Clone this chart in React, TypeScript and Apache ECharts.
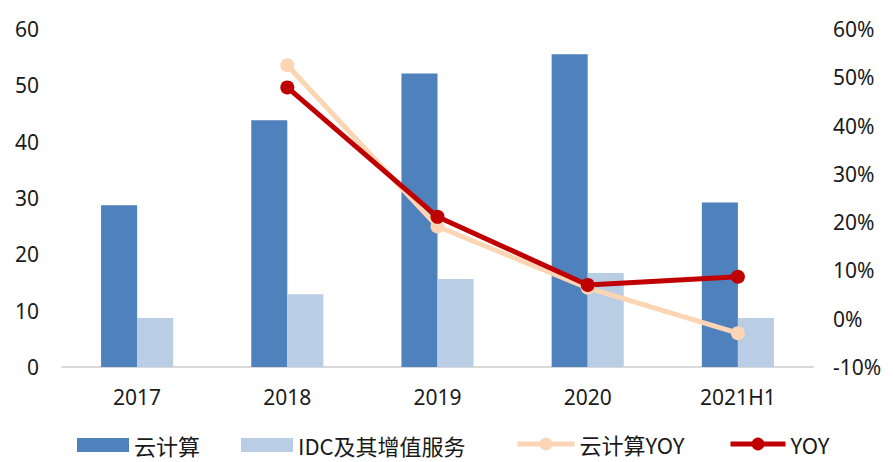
import React, { useEffect, useRef } from "react";
import * as echarts from "echarts";

const categories = ["2017", "2018", "2019", "2020", "2021H1"];
const cloudRevenue = [28.7, 43.8, 52.1, 55.5, 29.2];
const idcRevenue = [8.7, 12.9, 15.6, 16.7, 8.7];
const cloudYoy = [null, 52.5, 19.1, 6.4, -3.0];
const totalYoy = [null, 47.9, 21.1, 7.0, 8.7];
const legendNames = ["云计算", "IDC及其增值服务", "云计算YOY", "YOY"];

const FONT = "'Noto Sans', 'Noto Sans CJK SC', sans-serif";
const LEGEND_FONT = "'Noto Sans CJK SC', 'Noto Sans', sans-serif";

export default function App() {
  const ref = useRef<HTMLDivElement>(null);
  useEffect(() => {
    if (!ref.current) return;
    const chart = echarts.init(ref.current, undefined, { renderer: "svg" });
    const legendLeft = [77, 241, 515, 728];
    const legendWidth = [52, 52, 57, 55];
    chart.setOption({
      animation: false,
      backgroundColor: "#ffffff",
      grid: { left: 62, right: 80, top: 29, bottom: 95 },
      legend: legendNames.map((name, i) => {
        const isLine = i >= 2;
        return {
          data: [name],
          left: legendLeft[i],
          top: isLine ? 433 : 434,
          padding: 0,
          itemWidth: legendWidth[i],
          itemHeight: isLine ? 16 : 14,
          icon: isLine ? undefined : "rect",
          lineStyle: isLine ? { width: 5 } : undefined,
          textStyle: { fontFamily: LEGEND_FONT, fontSize: 22, color: "#1a1a1a" },
        };
      }),
      xAxis: {
        type: "category",
        data: categories,
        axisLine: { lineStyle: { color: "#d9d9d9", width: 2 } },
        axisTick: { show: false },
        axisLabel: { fontFamily: FONT, fontSize: 21, color: "#1a1a1a", margin: 19 },
      },
      yAxis: [
        {
          type: "value",
          min: 0,
          max: 60,
          interval: 10,
          splitLine: { show: false },
          axisLine: { show: false },
          axisTick: { show: false },
          axisLabel: { fontFamily: FONT, fontSize: 21, color: "#1a1a1a", margin: 23 },
        },
        {
          type: "value",
          min: -10,
          max: 60,
          interval: 10,
          splitLine: { show: false },
          axisLine: { show: false },
          axisTick: { show: false },
          axisLabel: {
            fontFamily: FONT,
            fontSize: 21,
            color: "#1a1a1a",
            margin: 20,
            formatter: "{value}%",
          },
        },
      ],
      series: [
        {
          name: "云计算",
          type: "bar",
          data: cloudRevenue,
          barWidth: "24%",
          barGap: "0%",
          itemStyle: { color: "#4f81bd" },
        },
        {
          name: "IDC及其增值服务",
          type: "bar",
          data: idcRevenue,
          barWidth: "24%",
          barGap: "0%",
          itemStyle: { color: "#b9cde5" },
        },
        {
          name: "云计算YOY",
          type: "line",
          yAxisIndex: 1,
          data: cloudYoy,
          symbol: "circle",
          symbolSize: 14,
          lineStyle: { color: "#fcd5b5", width: 5 },
          itemStyle: { color: "#fcd5b5" },
        },
        {
          name: "YOY",
          type: "line",
          yAxisIndex: 1,
          data: totalYoy,
          symbol: "circle",
          symbolSize: 14,
          lineStyle: { color: "#c00000", width: 5 },
          itemStyle: { color: "#c00000" },
        },
      ],
    });
    return () => chart.dispose();
  }, []);
  return (
    <div
      ref={ref}
      style={{ position: "fixed", left: 0, top: 0, width: 893, height: 462 }}
    />
  );
}
